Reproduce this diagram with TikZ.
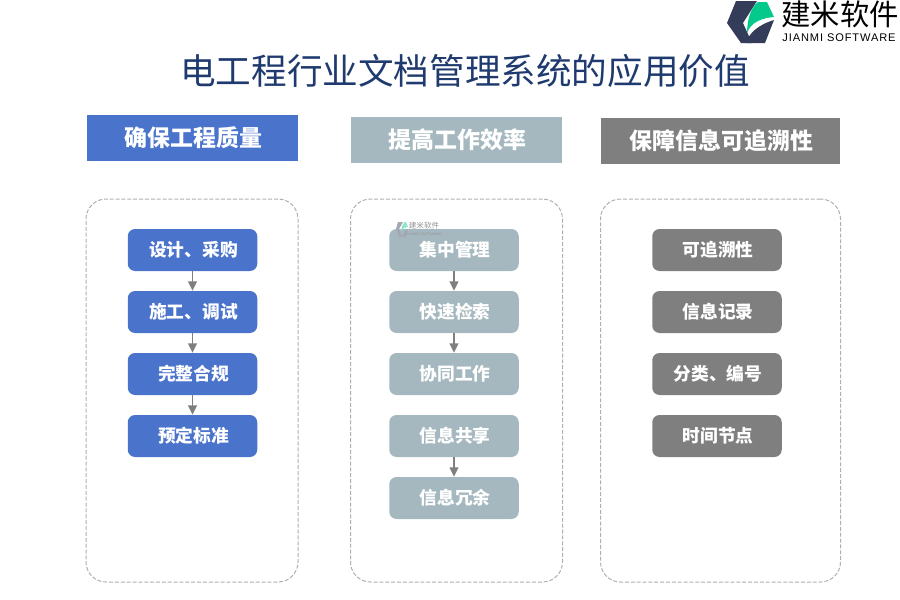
\documentclass[tikz,border=0pt]{standalone}
\usepackage{fontspec}
\setmainfont{Noto Sans CJK SC}
\newfontfamily\latinf[LetterSpace=8]{Liberation Sans}
\usetikzlibrary{arrows.meta}
\definecolor{cblue}{HTML}{4A73CC}
\definecolor{cgrey}{HTML}{A5B8BF}
\definecolor{cdark}{HTML}{7F7F7F}
\definecolor{ctitle}{HTML}{1F3A6E}
\definecolor{clogo}{HTML}{333C58}
\definecolor{cgreen}{HTML}{05C98A}
\definecolor{cframe}{HTML}{AFAFAF}
\tikzset{
  head/.style={minimum height=46pt*0.75,inner sep=0pt,text=white,font=\fontsize{17.2}{20}\selectfont\bfseries,execute at begin node=\hspace*{1.5pt}},
  item/.style={rounded corners=5.5pt,minimum width=129.5*0.75pt,minimum height=42*0.75pt,inner sep=0pt,text=white,font=\fontsize{13.3}{16}\selectfont\bfseries,execute at begin node=\hspace*{1.5pt}},
  panel/.style={draw=cframe,line width=0.75pt,rounded corners=15pt,dash pattern=on 3pt off 1.4pt},
  flow/.style={draw=cdark,line width=1.3pt,-{Triangle[length=7pt,width=6.5pt]}},
}
\begin{document}
\begin{tikzpicture}[x=0.75pt,y=-0.75pt]
\useasboundingbox (0,0) rectangle (900,600);
% logo
\fill[clogo] (736,1) -- (757,1) -- (743,23) -- (752,43) -- (741,43) -- (727,23) -- cycle;
\fill[cgreen] (747,33) .. controls (747,22) and (750,8) .. (758,2) -- (767,2) -- (774,17) .. controls (762,18) and (751,22) .. (747,33) -- cycle;
\fill[clogo] (746,43) .. controls (749,33) and (758,25) .. (774,20) -- (765,43) -- cycle;
\node (logotext) at (840,14) {\fontsize{22}{24}\selectfont 建米软件};
\node (logosub) at (839,38) {\latinf\fontsize{8.3}{10}\selectfont JIANMI SOFTWARE};
% title
\node (title) at (465,71) [text=ctitle] {\fontsize{26.7}{30}\selectfont 电工程行业文档管理系统的应用价值};
% heads
\node[head,fill=cblue,minimum width=211*0.75pt] (h1) at (192.5,138) {确保工程质量};
\node[head,fill=cgrey,minimum width=211*0.75pt] (h2) at (456.5,140) {提高工作效率};
\node[head,fill=cdark,minimum width=239*0.75pt] (h3) at (720.5,141) {保障信息可追溯性};
% panels
\node[panel,minimum width=212*0.75pt,minimum height=383*0.75pt] (p1) at (192,390.5) {};
\node[panel,minimum width=212*0.75pt,minimum height=383*0.75pt] (p2) at (456.5,390.5) {};
\node[panel,minimum width=240*0.75pt,minimum height=383*0.75pt] (p3) at (720.5,390.5) {};
% column 1
\node[item,fill=cblue] (a1) at (192.5,250) {设计、采购};
\node[item,fill=cblue] (a2) at (192.5,312) {施工、调试};
\node[item,fill=cblue] (a3) at (192.5,374) {完整合规};
\node[item,fill=cblue] (a4) at (192.5,436) {预定标准};
\draw[flow] (a1) -- (a2);
\draw[flow] (a2) -- (a3);
\draw[flow] (a3) -- (a4);
% column 2
\node[item,fill=cgrey] (b1) at (454,250) {集中管理};
\node[item,fill=cgrey] (b2) at (454,312) {快速检索};
\node[item,fill=cgrey] (b3) at (454,374) {协同工作};
\node[item,fill=cgrey] (b4) at (454,436) {信息共享};
\node[item,fill=cgrey] (b5) at (454,498) {信息冗余};
\draw[flow] (b1) -- (b2);
\draw[flow] (b2) -- (b3);
\draw[flow] (b4) -- (b5);
% watermark
\fill[clogo!45] (398,222) -- (403,222) -- (399,229) -- (402,237) -- (399,237) -- (396,229) -- cycle;
\fill[cgreen!45] (401,231) .. controls (402,226) and (403,223) .. (405,222) -- (406,222) -- (408,227) .. controls (405,227) and (403,228) .. (401,231) -- cycle;
\fill[clogo!45] (402,237) .. controls (403,233) and (405,230) .. (408,229) -- (406,237) -- cycle;
\node[text=gray!85,inner sep=0pt] (wm) at (424,226) {\fontsize{5.7}{7}\selectfont 建米软件};
\node[text=gray!85,inner sep=0pt] (wmsub) at (424,234) {\latinf\fontsize{2.6}{3}\selectfont JIANMI SOFTWARE};
% column 3
\node[item,fill=cdark] (c1) at (717,250) {可追溯性};
\node[item,fill=cdark] (c2) at (717,312) {信息记录};
\node[item,fill=cdark] (c3) at (717,374) {分类、编号};
\node[item,fill=cdark] (c4) at (717,436) {时间节点};
\end{tikzpicture}
\end{document}
